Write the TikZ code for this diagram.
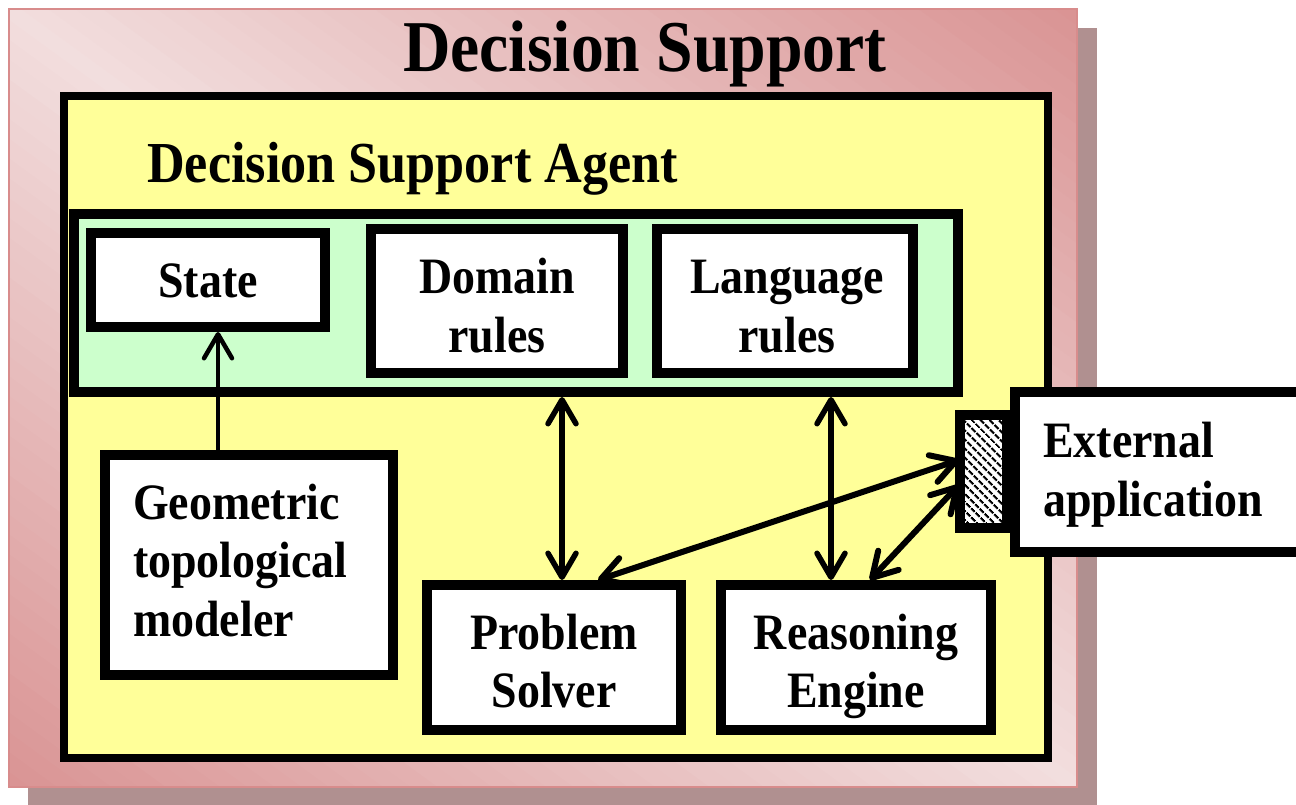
\documentclass[tikz,border=0pt]{standalone}
\usepackage{fontspec}
\setmainfont{Liberation Serif}[FakeStretch=0.9]
\usetikzlibrary{arrows.meta,patterns.meta}
\definecolor{pinkdark}{HTML}{D99292}
\definecolor{pinklight}{HTML}{F2DEDE}
\definecolor{pinkedge}{HTML}{D88C8C}
\definecolor{shadowc}{HTML}{B09090}
\definecolor{yellowbg}{HTML}{FFFF99}
\definecolor{greenbg}{HTML}{CCFFCC}
\tikzset{
  >={Straight Barb[length=24pt,width=28pt,round]},
  box/.style={draw=black,line width=10pt,fill=white,inner sep=0pt},
  lbl/.style={inner sep=0pt,font=\fontsize{51}{58.5}\selectfont\bfseries,anchor=base},
  arr/.style={line width=5.5pt,line cap=round},
  titletext/.style={inner sep=0pt,font=\fontsize{73}{80}\selectfont\bfseries},
  agenttext/.style={inner sep=0pt,font=\fontsize{58}{64}\selectfont\bfseries}
}
\begin{document}
\begin{tikzpicture}[x=1pt,y=-1pt]
\useasboundingbox (0,0) rectangle (1296,805);
\clip (0,0) rectangle (1296,805);
% shadow and outer frame
\fill[shadowc] (28,28) rectangle (1097,805);
\begin{scope}
  \clip (9,9) rectangle (1077,787);
  \foreach \i in {-40,...,40}{
    \pgfmathsetmacro\s{16*\i}
    \pgfmathtruncatemacro\m{abs(\i)*5/2}
    \draw[line width=17pt,draw=pinkdark!\m!pinklight]
      ({543+\s*0.5888-1132},{398-\s*0.8083-824}) -- ({543+\s*0.5888+1132},{398-\s*0.8083+824});
  }
\end{scope}
\draw[pinkedge,line width=2pt] (9,9) rectangle (1077,787);
\node[titletext,anchor=base] (title) at (645,72) {Decision Support};
% agent box
\draw[line width=8pt,fill=yellowbg] (64,96) rectangle (1048,758);
\node[agenttext,anchor=base west] (agent) at (147,183) {Decision Support Agent};
% knowledge group
\node[draw=black,line width=10pt,fill=greenbg,minimum width=884pt,minimum height=178pt] (green) at (516,303) {};
\node[box,minimum width=234pt,minimum height=94pt] (state) at (208,280) {};
\node[box,minimum width=252pt,minimum height=144pt] (domain) at (497,301) {};
\node[box,minimum width=256pt,minimum height=144pt] (lang) at (785,301) {};
\node[box,minimum width=288pt,minimum height=220pt] (geo) at (249,565) {};
\node[box,minimum width=254pt,minimum height=145pt] (solver) at (554,657.5) {};
\node[box,minimum width=270pt,minimum height=145pt] (engine) at (856,657.5) {};
\node[draw=black,line width=10pt,preaction={fill=white},pattern={Lines[angle=-45,distance=6.5pt,line width=2.4pt]},minimum width=47pt,minimum height=113pt,inner sep=0pt] (hatch) at (983.5,471.5) {};
\node[box,minimum width=305pt,minimum height=160pt] (ext) at (1167.5,472) {};
% labels (base anchor = baseline of last line)
\node[lbl] (statet) at (208,297) {State};
\node[lbl,align=center] (domaint) at (497,352) {Domain\\rules};
\node[lbl,align=center] (langt) at (787,352) {Language\\rules};
\node[lbl,align=left,anchor=base west] (geot) at (133,636) {Geometric\\topological\\modeler};
\node[lbl,align=center] (solvert) at (554,707.5) {Problem\\Solver};
\node[lbl,align=center] (enginet) at (856,707.5) {Reasoning\\Engine};
\node[lbl,align=left,anchor=base west] (extt) at (1043,516) {External\\application};
% connectors
\draw[arr,line width=4.5pt,->] ([xshift=-31pt]geo.north) -- ([xshift=10pt]state.south);
\draw[arr,<->] ([xshift=46pt]green.south) -- ([xshift=8pt]solver.north);
\draw[arr,<->] ([xshift=315pt]green.south) -- ([xshift=-25pt]engine.north);
\draw[arr,line width=6pt,<->] ([xshift=44pt]solver.north) -- ([yshift=11.5pt]hatch.west);
\draw[arr,line width=6pt,<->] ([xshift=14pt]engine.north) -- ([yshift=-13.5pt]hatch.west);
\end{tikzpicture}
\end{document}
